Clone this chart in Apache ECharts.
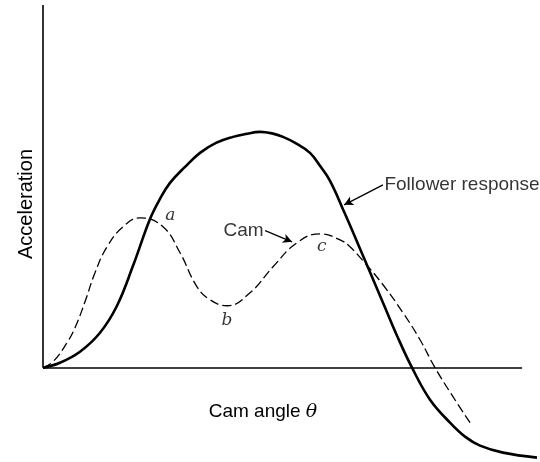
<!DOCTYPE html>
<html>
<head>
<meta charset="utf-8">
<script src="https://cdn.jsdelivr.net/npm/echarts@6/dist/echarts.min.js"></script>
<style>
  html, body { margin: 0; padding: 0; background: #fff; }
  #chart { width: 540px; height: 462px; }
</style>
</head>
<body>
<div id="chart"></div>
<script>
// Cam angle (arbitrary units, 0..100) and acceleration (arbitrary units)
const followerAngle = [0, 3.42, 7.44, 11.47, 14.89, 18.11, 21.53, 23.54, 25.55, 28.57, 31.59, 34.81, 38.23, 40.85, 43.66, 46.08, 48.29, 50.91, 53.72, 55.73, 57.75, 60.76, 64.39, 68.41, 71.23, 74.25, 77.87, 81.89, 84.91, 87.93, 92.56, 99.4];
const followerAccel = [0, 1.38, 4.41, 9.64, 17.08, 28.1, 41.0, 46.56, 50.96, 55.37, 59.23, 61.98, 63.64, 64.46, 65.01, 64.6, 63.64, 61.85, 59.23, 55.65, 51.52, 42.42, 30.85, 17.91, 8.82, 0, -8.82, -15.15, -19.01, -21.49, -23.42, -24.79];

const camAngle = [0, 2.01, 4.83, 6.44, 8.45, 10.46, 12.88, 16.1, 19.52, 24.14, 27.57, 30.99, 33.6, 37.02, 41.65, 46.28, 51.11, 55.73, 59.76, 61.77, 64.39, 68.41, 72.43, 75.86, 78.87, 82.49, 85.92];
const camAccel = [0, 1.65, 6.89, 11.02, 18.18, 26.17, 33.33, 38.84, 41.32, 38.84, 31.68, 22.31, 18.73, 17.08, 20.66, 27.82, 34.44, 36.91, 35.26, 33.33, 29.48, 22.87, 15.15, 7.71, 0, -7.99, -15.15];

// Point labels on the curves
const pointNames = ['a', 'b', 'c'];
const pointAngle = [25.6, 37.0, 56.1];
const pointAccel = [41.9, 12.9, 33.3];

// Callout texts and their arrows
const calloutTexts = ['Cam', 'Follower response'];
const calloutFrom = [[44.7, 37.8], [68.4, 50.4]];
const calloutTo = [[50.1, 34.7], [60.6, 44.9]];

const xEnd = 96.4;   // right end of the angle axis line
const yTop = 100;    // top of the acceleration axis line

const toPairs = (xs, ys) => xs.map((x, i) => [x, ys[i]]);

const chart = echarts.init(document.getElementById('chart'));

const ink = '#000';
const sans = '"Liberation Sans", Arial, sans-serif';
const serif = '"DejaVu Serif", "Liberation Serif", serif';

chart.setOption({
  animation: false,
  backgroundColor: '#fff',
  grid: { left: 43, right: 0, top: 5, bottom: 0 },
  xAxis: {
    type: 'value', min: 0, max: 100,
    axisLine: { show: false }, axisTick: { show: false },
    axisLabel: { show: false }, splitLine: { show: false }
  },
  yAxis: {
    type: 'value', min: -26, max: 100,
    axisLine: { show: false }, axisTick: { show: false },
    axisLabel: { show: false }, splitLine: { show: false }
  },
  graphic: [
    {
      type: 'text', x: 26, y: 204, rotation: Math.PI / 2,
      style: { text: 'Acceleration', font: '20px ' + sans, fill: ink, align: 'center', verticalAlign: 'middle' }
    },
    {
      type: 'text', x: 263, y: 412,
      style: {
        text: '{t|Cam angle }{g|θ}',
        rich: {
          t: { fontFamily: sans, fontSize: 19, fill: ink },
          g: { fontFamily: serif, fontStyle: 'italic', fontSize: 19, fill: ink }
        },
        align: 'center', verticalAlign: 'middle'
      }
    }
  ],
  series: [
    {
      name: 'Axes',
      type: 'line',
      data: [[0, 0]],
      symbol: 'none',
      lineStyle: { opacity: 0 },
      silent: true,
      markLine: {
        silent: true,
        symbol: 'none',
        label: { show: false },
        lineStyle: { color: ink, width: 1.6, type: 'solid' },
        data: [
          [{ coord: [0, 0] }, { coord: [xEnd, 0] }],
          [{ coord: [0, 0] }, { coord: [0, yTop] }]
        ]
      }
    },
    {
      name: 'Cam',
      type: 'line',
      data: toPairs(camAngle, camAccel),
      smooth: 0.45,
      symbol: 'none',
      lineStyle: { color: ink, width: 1.3, type: [9, 4] },
      z: 3
    },
    {
      name: 'Follower response',
      type: 'line',
      data: toPairs(followerAngle, followerAccel),
      smooth: 0.4,
      symbol: 'none',
      lineStyle: { color: ink, width: 2.6 },
      z: 4
    },
    {
      name: 'Callouts',
      type: 'line',
      data: [[0, 0]],
      symbol: 'none',
      lineStyle: { opacity: 0 },
      silent: true,
      markLine: {
        silent: true,
        symbol: ['none', 'arrow'],
        symbolSize: [7, 9],
        label: { show: false },
        data: [
          [{ coord: calloutFrom[0], lineStyle: { curveness: 0.35 } }, { coord: calloutTo[0] }],
          [{ coord: calloutFrom[1], lineStyle: { curveness: -0.3 } }, { coord: calloutTo[1] }]
        ],
        lineStyle: { color: ink, width: 1.2, type: 'solid' },
        itemStyle: { color: ink }
      }
    },
    {
      name: 'Labels',
      type: 'scatter',
      symbolSize: 1,
      itemStyle: { color: 'rgba(0,0,0,0)' },
      silent: true,
      z: 5,
      data: [
        ...pointNames.map((n, i) => ({
          value: [pointAngle[i], pointAccel[i]],
          label: {
            show: true, position: 'inside', formatter: n,
            fontFamily: serif, fontStyle: 'italic', fontSize: 17, color: ink
          }
        })),
        {
          value: calloutFrom[0],
          label: { show: true, position: 'left', distance: 1, formatter: calloutTexts[0], fontFamily: sans, fontSize: 19, color: ink }
        },
        {
          value: calloutFrom[1],
          label: { show: true, position: 'right', distance: 1, formatter: calloutTexts[1], fontFamily: sans, fontSize: 19, color: ink }
        }
      ]
    }
  ]
});
</script>
</body>
</html>
